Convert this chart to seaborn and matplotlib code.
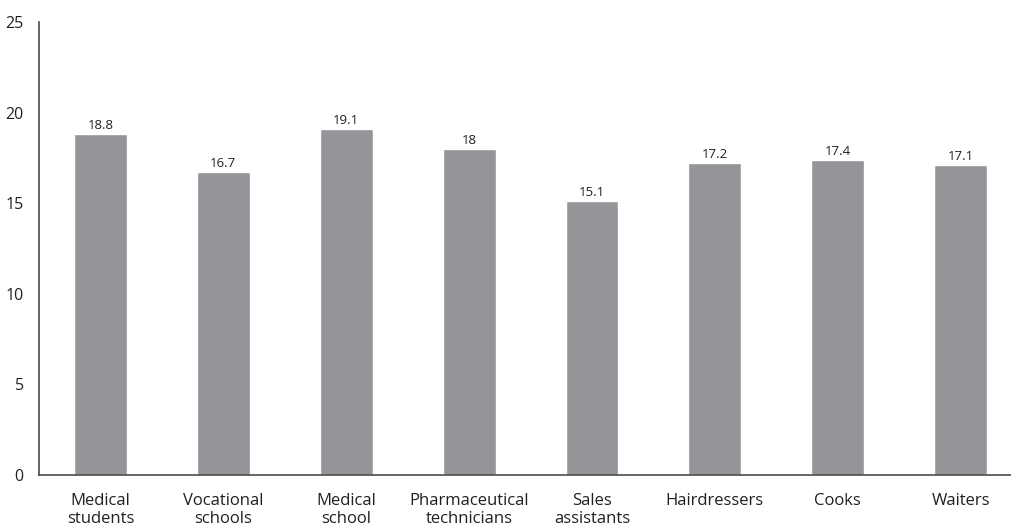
import matplotlib
matplotlib.use("Agg")
import matplotlib.pyplot as plt
import seaborn as sns
import pandas as pd

categories = ["Medical\nstudents", "Vocational\nschools", "Medical\nschool", "Pharmaceutical\ntechnicians",
              "Sales\nassistants", "Hairdressers", "Cooks", "Waiters"]
values = [18.8, 16.7, 19.1, 18.0, 15.1, 17.2, 17.4, 17.1]
value_labels = ["18.8", "16.7", "19.1", "18", "15.1", "17.2", "17.4", "17.1"]
yticks = [0, 5, 10, 15, 20, 25]

sns.set_theme(style="white")
plt.rcParams['font.family'] = ['Open Sans', 'DejaVu Sans']

fig = plt.figure(figsize=(10.11, 5.30), dpi=100)
W, H = 1011, 530
ax = fig.add_axes([39 / W, 55 / H, (1011 - 39) / W, (475 - 22) / H])

df = pd.DataFrame({"cat": categories, "val": values})
sns.barplot(data=df, x="cat", y="val", color="#939598", width=0.43, saturation=1, ax=ax)

for i, (v, lab) in enumerate(zip(values, value_labels)):
    ax.text(i, v + 0.12, lab, ha="center", va="bottom", fontsize=9.5, color="#231f20")

ax.set_ylim(0, 25)
ax.set_xlim(-0.5, 7.41)
ax.set_yticks(yticks)
ax.set_yticklabels([str(t) for t in yticks], fontsize=11.5, color="#231f20")
ax.tick_params(axis="x", labelsize=12, colors="#231f20", length=0, pad=13)
ax.tick_params(axis="y", length=0, pad=11)
for lbl in ax.get_xticklabels():
    lbl.set_linespacing(1.2)
ax.set_xlabel("")
ax.set_ylabel("")
for s in ["top", "right"]:
    ax.spines[s].set_visible(False)
for s in ["left", "bottom"]:
    ax.spines[s].set_color("#4d4d4f")
    ax.spines[s].set_linewidth(1.2)

fig.savefig("out.png", dpi=100)
